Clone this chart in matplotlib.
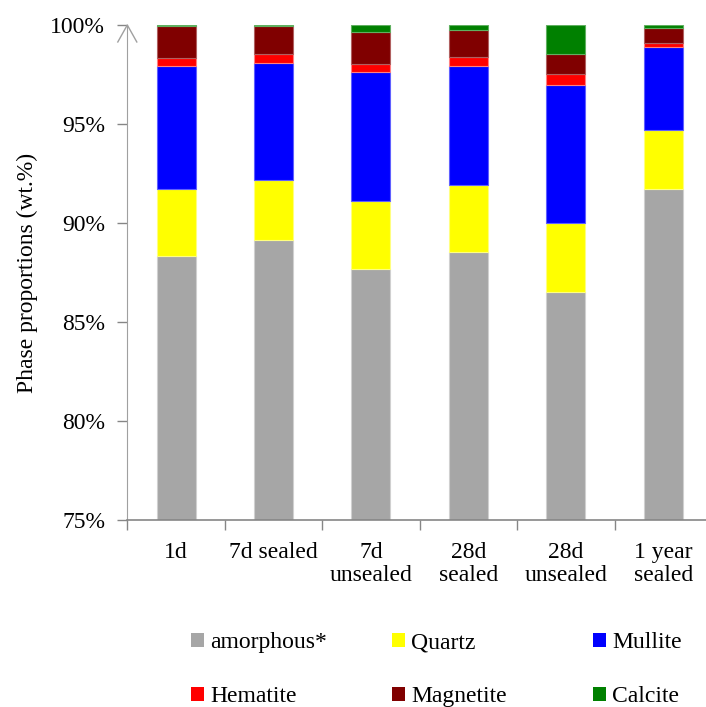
import matplotlib
matplotlib.use('Agg')
import matplotlib.pyplot as plt
from matplotlib.patches import Patch
import numpy as np

plt.rcParams['font.family'] = ['Liberation Serif', 'DejaVu Serif']

# phase proportions (wt.%)
samples = ['1d', '7d sealed', '7d\nunsealed', '28d\nsealed', '28d\nunsealed', '1 year\nsealed']
amorphous = [88.35, 89.16, 87.69, 88.52, 86.50, 91.70]
quartz = [3.35, 3.01, 3.41, 3.38, 3.50, 3.00]
mullite = [6.25, 5.93, 6.53, 6.05, 6.98, 4.19]
hematite = [0.38, 0.42, 0.38, 0.42, 0.53, 0.19]
magnetite = [1.62, 1.43, 1.64, 1.39, 1.01, 0.78]
calcite = [0.05, 0.05, 0.35, 0.24, 1.48, 0.14]

phases = ['amorphous*', 'Quartz', 'Mullite', 'Hematite', 'Magnetite', 'Calcite']
colors = ['#A6A6A6', '#FFFF00', '#0000FF', '#FF0000', '#800000', '#008000']
edges = ['#D0D0D0', '#FFFF80', '#6060FF', '#FF8080', '#B06060', '#60B060']
series = [amorphous, quartz, mullite, hematite, magnetite, calcite]

fs = 17

fig = plt.figure(figsize=(7.06, 7.07), dpi=100)
ax = fig.add_axes([127.3 / 706, 1 - 520 / 707, (712 - 127.3) / 706, 495 / 707])

x = np.arange(len(samples))
bottom = np.zeros(len(samples))
for vals, c, e, name in zip(series, colors, edges, phases):
    ax.bar(x, vals, 0.4, bottom=bottom, color=c, edgecolor=e, linewidth=0.8, label=name)
    bottom += np.array(vals)

ax.set_xlim(-0.5, len(samples) - 0.5)
ax.set_ylim(75, 100)
ax.set_yticks(np.arange(75, 101, 5))
ax.set_yticklabels(['%d%%' % v for v in range(75, 101, 5)])

# boundary ticks on x, labels at category centres
ax.set_xticks(np.arange(-0.5, len(samples) - 0.4, 1.0))
ax.set_xticklabels([])
ax.set_xticks(x, minor=True)
ax.set_xticklabels(samples, minor=True, linespacing=1.1)
ax.tick_params(axis='x', which='minor', length=0, pad=16, labelsize=fs)
ax.tick_params(axis='x', which='major', length=7, color='#868686', width=1)
ax.tick_params(axis='y', length=7, color='#868686', width=1, pad=9, labelsize=fs)

for s in ['top', 'right']:
    ax.spines[s].set_visible(False)
ax.spines['left'].set_color('#A0A0A0')
ax.spines['bottom'].set_color('#868686')
ax.spines['bottom'].set_linewidth(1.2)

# open arrow head on top of y axis
ax.plot([-0.01625, 0, 0.01625], [1 - 0.0343, 1, 1 - 0.0343], transform=ax.transAxes,
        color='#A0A0A0', lw=1, clip_on=False)

ax.set_ylabel('Phase proportions (wt.%)', fontsize=fs, labelpad=9)

handles = [Patch(facecolor=c) for c in colors]
col_x = [191.0, 392.0, 593.0]
for i in range(3):
    leg = fig.legend([handles[i], handles[i + 3]], [phases[i], phases[i + 3]],
                     loc='upper left', bbox_to_anchor=(col_x[i] / 706, 1 - 632 / 707),
                     bbox_transform=fig.transFigure, frameon=False, fontsize=fs,
                     handlelength=0.55, handleheight=0.55, handletextpad=0.25,
                     labelspacing=1.4, borderpad=0, borderaxespad=0)

fig.savefig('out.png', dpi=100)
